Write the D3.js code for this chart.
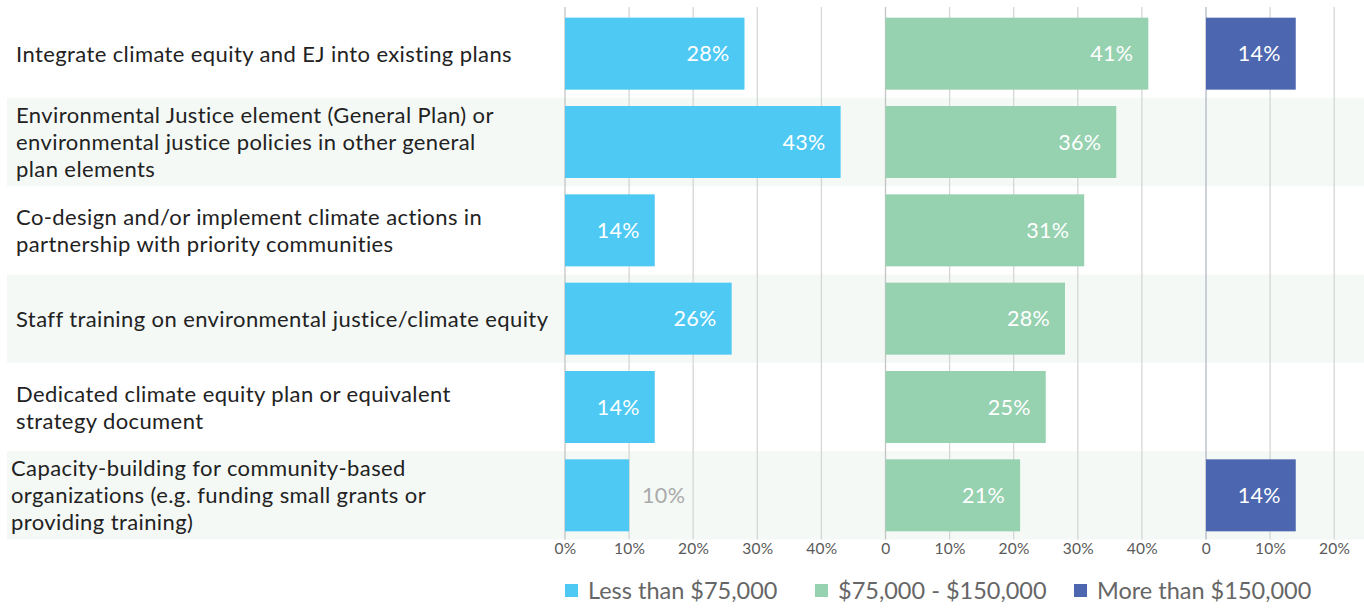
<!DOCTYPE html>
<html>
<head>
<meta charset="utf-8">
<script src="https://cdn.jsdelivr.net/npm/d3@7"></script>
<style>
  html, body { margin: 0; padding: 0; background: #fff; }
  svg { display: block; font-family: Lato, "Open Sans", sans-serif; }
</style>
</head>
<body>
<div id="chart"></div>
<script>
// data
const categories = [
  ['Integrate climate equity and EJ into existing plans'],
  ['Environmental Justice element (General Plan) or', 'environmental justice policies in other general', 'plan elements'],
  ['Co-design and/or implement climate actions in', 'partnership with priority communities'],
  ['Staff training on environmental justice/climate equity'],
  ['Dedicated climate equity plan or equivalent', 'strategy document'],
  ['Capacity-building for community-based', 'organizations (e.g. funding small grants or', 'providing training)']
];
const seriesNames = ['Less than $75,000', '$75,000 - $150,000', 'More than $150,000'];
const lessThan75k = [28, 43, 14, 26, 14, 10];
const from75to150k = [41, 36, 31, 28, 25, 21];
const moreThan150k = [14, null, null, null, null, 14];
const tickValues = [[0, 10, 20, 30, 40], [0, 10, 20, 30, 40], [0, 10, 20]];
const tickLabels = [['0%', '10%', '20%', '30%', '40%'], ['0', '10%', '20%', '30%', '40%'], ['0', '10%', '20%']];

const series = [lessThan75k, from75to150k, moreThan150k];
const colors = ['#4dc9f4', '#96d1b0', '#4c66af'];

const width = 1364, height = 608;
const plotTop = 9.5, plotBottom = 539.5;

const svg = d3.select('#chart').append('svg')
  .attr('width', width)
  .attr('height', height);

// rows
const rows = d3.scaleBand().domain(d3.range(categories.length)).range([plotTop, plotBottom]);
const y = d3.scaleBand().domain(d3.range(categories.length)).range([plotTop, plotBottom])
  .paddingInner(0.185).paddingOuter(0.0925);

svg.append('g').selectAll('rect')
  .data(d3.range(categories.length).filter(i => i % 2 === 1))
  .enter().append('rect')
  .attr('x', 7)
  .attr('y', d => rows(d))
  .attr('width', width - 7)
  .attr('height', rows.bandwidth())
  .attr('fill', '#f4f9f6');

// category labels
const lineH = 27;
const labels = svg.append('g').selectAll('text')
  .data(categories)
  .enter().append('text')
  .attr('x', (d, i) => i === 5 ? 11 : 16)
  .attr('y', (d, i) => rows(i) + rows.bandwidth() / 2)
  .attr('fill', '#222')
  .style('font-size', '22px')
  .style('letter-spacing', '0.4px');
labels.each(function (d) {
  const t = d3.select(this);
  d.forEach((line, j) => {
    t.append('tspan')
      .attr('x', t.attr('x'))
      .attr('dy', j === 0 ? ((-(d.length - 1) / 2) * lineH + 8) : lineH)
      .text(line);
  });
});

// panels
const origins = [565, 885.5, 1206];
const pxPerUnit = 6.41;
const panels = origins.map((o, k) =>
  d3.scaleLinear().domain([0, 45]).range([o, o + 45 * pxPerUnit])
);

panels.forEach((x, k) => {
  const g = svg.append('g');

  // gridlines
  g.selectAll('line.grid')
    .data(tickValues[k])
    .enter().append('line')
    .attr('class', 'grid')
    .attr('x1', d => x(d)).attr('x2', d => x(d))
    .attr('y1', 7).attr('y2', plotBottom)
    .attr('stroke', d => d === 0 ? (k === 2 ? '#b4b8c6' : '#c4c4c4') : '#d6d6d6')
    .attr('stroke-width', 1.3);

  // axis
  const axis = d3.axisBottom(x)
    .tickValues(tickValues[k])
    .tickFormat((d, i) => tickLabels[k][i])
    .tickSize(0)
    .tickPadding(3);
  const ag = g.append('g')
    .attr('transform', 'translate(0,' + plotBottom + ')')
    .call(axis);
  ag.select('.domain').remove();
  ag.selectAll('text')
    .attr('fill', '#595959')
    .style('font-size', '15.5px')
    .style('letter-spacing', '0.3px')
    .style('font-family', 'Lato, sans-serif');

  // bars
  const vals = series[k];
  const items = vals.map((v, i) => ({ v, i })).filter(d => d.v != null);
  g.selectAll('rect.bar')
    .data(items)
    .enter().append('rect')
    .attr('class', 'bar')
    .attr('x', x(0))
    .attr('y', d => y(d.i))
    .attr('width', d => x(d.v) - x(0))
    .attr('height', y.bandwidth())
    .attr('fill', colors[k]);

  // value labels
  g.selectAll('text.val')
    .data(items)
    .enter().append('text')
    .attr('class', 'val')
    .attr('x', d => d.v < 12 ? x(d.v) + 13 : x(d.v) - 15)
    .attr('y', d => y(d.i) + y.bandwidth() / 2)
    .attr('dy', '0.36em')
    .attr('text-anchor', d => d.v < 12 ? 'start' : 'end')
    .attr('fill', d => d.v < 12 ? '#aaaaaa' : '#ffffff')
    .style('font-size', '21.5px')
    .style('letter-spacing', '0.3px')
    .text(d => d.v + '%');
});

// legend
const legendX = [565, 815, 1074];
const legend = svg.append('g').selectAll('g')
  .data(seriesNames)
  .enter().append('g')
  .attr('transform', (d, i) => 'translate(' + legendX[i] + ',584)');
legend.append('rect')
  .attr('width', 13).attr('height', 13)
  .attr('fill', (d, i) => colors[i]);
legend.append('text')
  .attr('x', 23)
  .attr('y', 7)
  .attr('dy', '0.36em')
  .attr('fill', '#666')
  .style('font-size', '23.5px')
  .text(d => d);
</script>
</body>
</html>
